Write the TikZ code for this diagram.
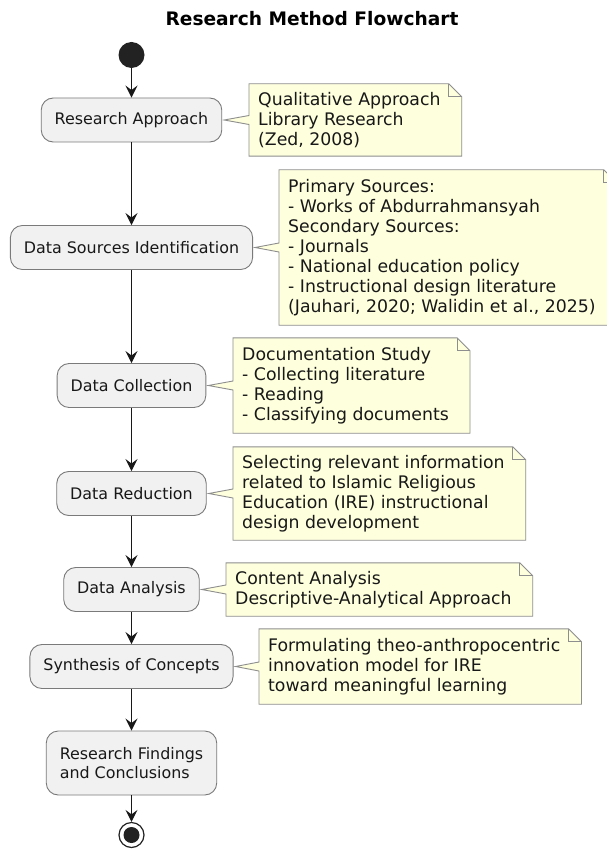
\documentclass[tikz,border=0pt]{standalone}
\usepackage{fontspec}
\setmainfont{DejaVu Sans}
\usetikzlibrary{arrows.meta,calc}
\pgfdeclarelayer{background}
\pgfsetlayers{background,main}
\definecolor{notefill}{HTML}{FEFFDD}
\definecolor{noteline}{HTML}{8E8E8E}
\definecolor{actfill}{HTML}{F1F1F1}
\definecolor{actline}{HTML}{7A7A7A}
\definecolor{ink}{HTML}{181818}
\definecolor{dot}{HTML}{222222}
\tikzset{
  act/.style={draw=actline, fill=actfill, line width=0.9pt, rounded corners=12pt,
    inner xsep=13.5pt, inner ysep=0pt, minimum height=44pt,
    font=\fontsize{15.9}{18.6}\selectfont, text=ink},
  note/.style={inner xsep=9pt, inner ysep=0pt, align=left,
    font=\fontsize{17.3}{20}\selectfont, text=ink},
  noteoutline/.style={draw=noteline, fill=notefill, line width=0.9pt, line join=miter},
  flow/.style={draw=ink, line width=1.1pt, -{Stealth[length=12pt,width=12pt,inset=4.5pt]}},
  startdot/.style={circle, fill=dot, minimum size=26pt, inner sep=0pt},
  enddot/.style={circle, draw=dot, line width=1.2pt, fill=white, minimum size=25pt, inner sep=0pt},
  enddotin/.style={circle, fill=dot, minimum size=16pt, inner sep=0pt},
  titlestyle/.style={font=\fontsize{18.6}{22}\selectfont\bfseries, text=black}
}
\newcommand\drawnote[2]{%
  \path[noteoutline] (#1.north west) -- ($(#1.north east)+(-1pt,0pt)$)
    -- ($(#1.north east)+(12pt,-13pt)$) -- ($(#1.south east)+(12pt,0pt)$)
    -- (#1.south west) -- ($(#1.west)+(0pt,-4.5pt)$) -- ($(#2.east)+(2pt,0pt)$)
    -- ($(#1.west)+(0pt,4.5pt)$) -- cycle;
  \draw[noteline, line width=0.9pt] ($(#1.north east)+(-1pt,0pt)$) -- ($(#1.north east)+(-1pt,-13pt)$)
    -- ($(#1.north east)+(12pt,-13pt)$);
}
\begin{document}
\begin{tikzpicture}[x=1pt,y=-1pt]
\useasboundingbox (0,0) rectangle (606,850);
\clip (0,0) rectangle (606,850);

\node[titlestyle] (title) at (312,19) {Research Method Flowchart};

\node[startdot] (start) at (131.5,55) {};
\node[act] (ra) at (131.5,120) {Research Approach};
\node[act] (dsi) at (131.5,247.5) {Data Sources Identification};
\node[act] (dc) at (131.5,385.5) {Data Collection};
\node[act] (dr) at (131.5,493.5) {Data Reduction};
\node[act] (da) at (131.5,589.5) {Data Analysis};
\node[act] (sc) at (131.5,666.5) {Synthesis of Concepts};
\node[act, minimum height=64pt, align=left] (rf) at (131.5,763) {Research Findings\\and Conclusions};
\node[enddot] (stop) at (131.5,835) {};
\node[enddotin] (stopin) at (stop) {};

\node[note, anchor=west, minimum height=72pt] (n1) at (249,120)
  {Qualitative Approach\\Library Research\\(Zed, 2008)};
\node[note, anchor=west, minimum height=155pt] (n2) at (279,247.5)
  {Primary Sources:\\- Works of Abdurrahmansyah\\Secondary Sources:\\- Journals\\- National education policy\\- Instructional design literature\\(Jauhari, 2020; Walidin et al., 2025)};
\node[note, anchor=west, minimum height=95pt] (n3) at (233,385.5)
  {Documentation Study\\- Collecting literature\\- Reading\\- Classifying documents};
\node[note, anchor=west, minimum height=93pt] (n4) at (233,493.5)
  {Selecting relevant information\\related to Islamic Religious\\Education (IRE) instructional\\design development};
\node[note, anchor=west, minimum height=53pt] (n5) at (226,589.5)
  {Content Analysis\\Descriptive-Analytical Approach};
\node[note, anchor=west, minimum height=75pt] (n6) at (259,666.5)
  {Formulating theo-anthropocentric\\innovation model for IRE\\toward meaningful learning};

\begin{pgfonlayer}{background}
\fill[white] (0,0) rectangle (606,850);
\drawnote{n1}{ra}
\drawnote{n2}{dsi}
\drawnote{n3}{dc}
\drawnote{n4}{dr}
\drawnote{n5}{da}
\drawnote{n6}{sc}
\end{pgfonlayer}

\draw[flow] (start) -- (ra);
\draw[flow] (ra) -- (dsi);
\draw[flow] (dsi) -- (dc);
\draw[flow] (dc) -- (dr);
\draw[flow] (dr) -- (da);
\draw[flow] (da) -- (sc);
\draw[flow] (sc) -- (rf);
\draw[flow] (rf) -- (stop);
\end{tikzpicture}
\end{document}
